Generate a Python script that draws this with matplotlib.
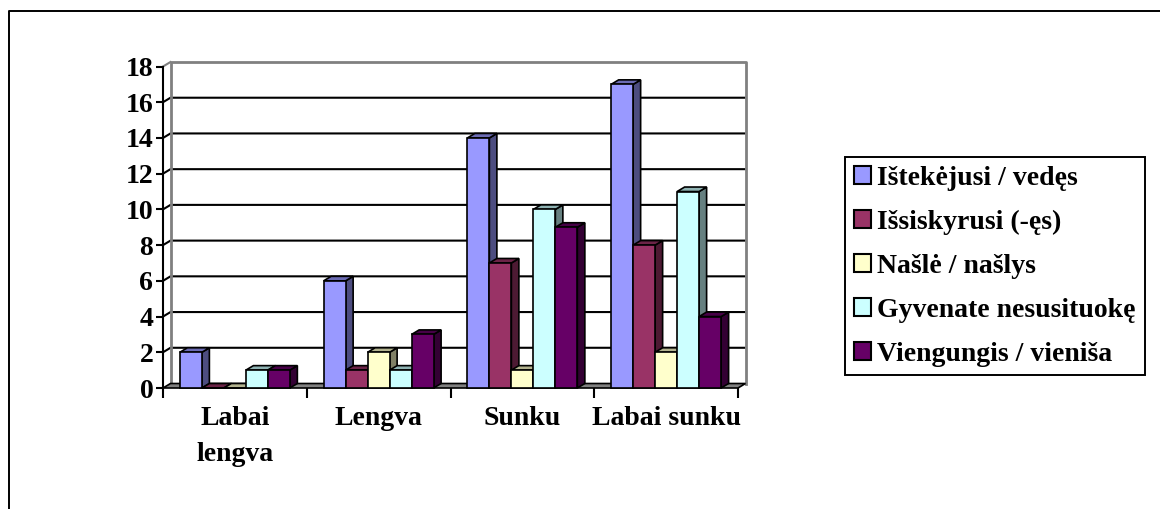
import numpy as np
import matplotlib
matplotlib.use('Agg')
import matplotlib.pyplot as plt
from matplotlib.patches import Polygon, Patch
from matplotlib.lines import Line2D
from matplotlib.colors import to_rgb

plt.rcParams['font.family'] = ['Liberation Serif', 'DejaVu Serif']
plt.rcParams['font.weight'] = 'bold'

# data
categories = ['Labai\nlengva', 'Lengva', 'Sunku', 'Labai sunku']
series_names = ['Ištekėjusi / vedęs', 'Išsiskyrusi (-ęs)', 'Našlė / našlys',
                'Gyvenate nesusituokę', 'Viengungis / vieniša']
istekejusi = [2, 6, 14, 17]
issiskyrusi = [0, 1, 7, 8]
nasle = [0, 2, 1, 2]
gyvenate = [1, 1, 10, 11]
viengungis = [1, 3, 9, 4]
y_ticks = [0, 2, 4, 6, 8, 10, 12, 14, 16, 18]

series = [istekejusi, issiskyrusi, nasle, gyvenate, viengungis]
colors = ['#9999FF', '#993366', '#FFFFCC', '#CCFFFF', '#660066']

W, H = 1160, 509
fig = plt.figure(figsize=(W / 100, H / 100), dpi=100)
ax_px = (163, 388, 738, 66.5)  # left, bottom, right, top in pixels (from top)
ax = fig.add_axes([ax_px[0] / W, (H - ax_px[1]) / H,
                   (ax_px[2] - ax_px[0]) / W, (ax_px[1] - ax_px[3]) / H])
ax.set_xlim(0, len(categories))
ax.set_ylim(0, 18)

# 3d depth in data units (7.5 px right, 4.5 px up)
dx = 7.5 * len(categories) / (ax_px[2] - ax_px[0])
dy = 4.5 * 18 / (ax_px[1] - ax_px[3])
nx = len(categories)

# walls and floor
floor = Polygon([(0, 0), (nx, 0), (nx + dx, dy), (dx, dy)], closed=True,
                facecolor='#808080', edgecolor='black', lw=1.2, clip_on=False, zorder=2)
ax.add_patch(floor)
for t in y_ticks[1:-1]:
    ax.plot([0, dx, nx + dx], [t, t + dy, t + dy], color='black', lw=1.5,
            clip_on=False, zorder=1, solid_capstyle='butt')
ax.plot([dx, dx, nx + dx, nx + dx], [dy, 18 + dy, 18 + dy, dy], color='#808080',
        lw=2, clip_on=False, zorder=1.5)
ax.plot([0, dx], [18, 18 + dy], color='#808080', lw=1.5, clip_on=False, zorder=1.5)
ax.plot([0, 0], [0, 18], color='black', lw=1.5, clip_on=False, zorder=3)

# bars
n = len(series)
bar_w = 0.153
x = np.arange(nx) + 0.5
for gi in range(nx):
    for si in range(n):
        v = series[si][gi]
        c = np.array(to_rgb(colors[si]))
        x0 = x[gi] - n * bar_w / 2 + si * bar_w
        x1 = x0 + bar_w
        z = 4 + gi * 10 + si
        side = Polygon([(x1, 0), (x1 + dx, dy), (x1 + dx, v + dy), (x1, v)], closed=True,
                       facecolor=c * 0.5, edgecolor='black', lw=1.2, clip_on=False, zorder=z)
        top = Polygon([(x0, v), (x1, v), (x1 + dx, v + dy), (x0 + dx, v + dy)], closed=True,
                      facecolor=c * 0.7, edgecolor='black', lw=1.2, clip_on=False, zorder=z)
        ax.add_patch(side)
        ax.add_patch(top)
        ax.bar(x0, v, bar_w, align='edge', color=colors[si], edgecolor='black',
               lw=1.2, zorder=z + 0.5, clip_on=False)

for s in ax.spines.values():
    s.set_visible(False)
ax.set_yticks(y_ticks)
ax.set_yticklabels([str(t) for t in y_ticks])
ax.tick_params(axis='y', length=5, width=1.5, pad=2, labelsize=20)
ax.set_xticks(np.arange(nx + 1))
ax.set_xticklabels([])
ax.set_xticks(x, minor=True)
ax.set_xticklabels(categories, minor=True, linespacing=1.6)
ax.tick_params(axis='x', which='major', length=7, width=1.5)
ax.tick_params(axis='x', which='minor', length=0, pad=13, labelsize=20)
ax.set_facecolor('none')

handles = [Patch(facecolor=c, edgecolor='black', lw=1.5) for c in colors]
leg = fig.legend(handles, series_names, loc='upper left',
                 bbox_to_anchor=(845 / W, 1 - 157 / H), fontsize=20,
                 frameon=True, fancybox=False, edgecolor='black', framealpha=1,
                 borderpad=0.32, labelspacing=0.68, handlelength=0.62, handleheight=0.62,
                 handletextpad=0.22, borderaxespad=0)
leg.get_frame().set_linewidth(1.4)

# outer chart border
fig.add_artist(Line2D([8.5 / W, 8.5 / W, 1], [0, 1 - 11 / H, 1 - 11 / H],
                      transform=fig.transFigure, color='black', lw=1.4))

fig.savefig('out.png', dpi=100)
